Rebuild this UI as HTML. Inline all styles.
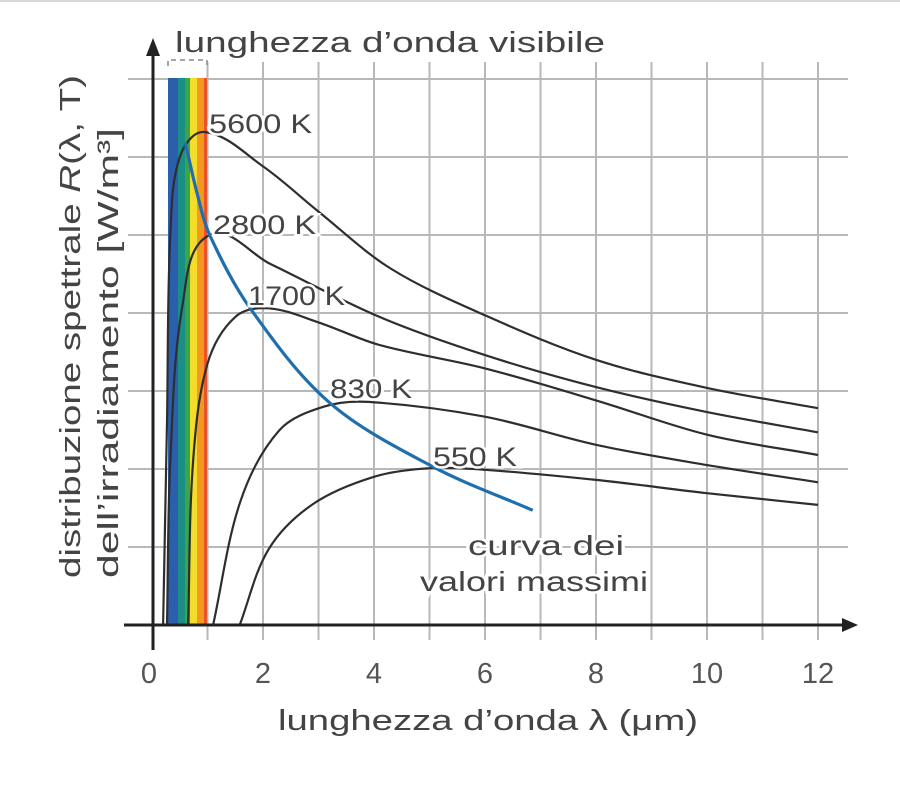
<!DOCTYPE html>
<html><head><meta charset="utf-8"><style>
html,body{margin:0;padding:0;background:#fff;}
svg{display:block;font-family:"Liberation Sans",sans-serif;}
</style></head><body>
<svg id="chart" width="900" height="788" viewBox="0 0 900 788">
<rect x="0" y="0" width="900" height="2" fill="#d8d8dc"/>
<g id="grid"></g>
<g id="spectrum"></g>
<g id="curves"></g>
<g id="axes"></g>
<g id="labels"></g>
</svg>
<script>
const xTicks = [0, 2, 4, 6, 8, 10, 12];
const yLevels = [1, 2, 3, 4, 5, 6, 7];
const temps = ["5600 K", "2800 K", "1700 K", "830 K", "550 K"];
const x5600 = [0.2, 0.27, 0.33, 0.5, 0.95, 2, 3, 4.3, 6, 8, 10, 12];
const y5600 = [0, 2.6, 5.0, 6.0, 6.32, 5.88, 5.3, 4.57, 3.97, 3.4, 3.04, 2.78];
const x2800 = [0.27, 0.33, 0.55, 1.04, 2.13, 4.1, 6, 8, 10, 12];
const y2800 = [0, 2.1, 4.1, 5.0, 4.63, 3.95, 3.46, 3.05, 2.73, 2.47];
const x1700 = [0.65, 0.74, 1.0, 1.5, 2.1, 3, 4.1, 6, 8, 10, 12];
const y1700 = [0, 2.1, 3.35, 3.95, 4.06, 3.88, 3.59, 3.29, 2.88, 2.44, 2.18];
const x830 = [1.1, 1.6, 2.3, 3.1, 3.9, 6, 8, 10, 12];
const y830 = [0, 1.6, 2.5, 2.8, 2.86, 2.67, 2.31, 2.05, 1.83];
const x550 = [1.58, 2.1, 2.9, 4.0, 5.0, 6, 8, 10, 12];
const y550 = [0, 0.97, 1.55, 1.9, 2.01, 1.99, 1.86, 1.69, 1.54];
const xMax = [0.6, 0.81, 1.04, 1.77, 3.2, 5.06, 6.86];
const yMax = [6.18, 5.54, 5.0, 4.06, 2.85, 2.03, 1.47];

const NS = "http://www.w3.org/2000/svg";
const X0 = 152, XS = 55.5, Y0 = 625, YS = 78;
function sx(v){ return X0 + v*XS; }
function sy(v){ return Y0 - v*YS; }
function mk(tag, attrs, parent){
  const e = document.createElementNS(NS, tag);
  for (const k in attrs) e.setAttribute(k, attrs[k]);
  parent.appendChild(e); return e;
}
function dist(a,b){ return Math.hypot(a[0]-b[0], a[1]-b[1]) || 1e-6; }
function smooth(xs, ys){
  const p = xs.map((x,i)=>[sx(x), sy(ys[i])]);
  const n = p.length;
  const tan = p.map((pt,i)=>{
    if (i===0) return [p[1][0]-p[0][0], p[1][1]-p[0][1]];
    if (i===n-1) return [p[n-1][0]-p[n-2][0], p[n-1][1]-p[n-2][1]];
    const d0 = dist(p[i-1],p[i]), d1 = dist(p[i],p[i+1]);
    return [(p[i+1][0]-p[i-1][0])/(d0+d1), (p[i+1][1]-p[i-1][1])/(d0+d1)];
  });
  let d = "M" + p[0][0].toFixed(1) + "," + p[0][1].toFixed(1);
  for (let i=0;i<n-1;i++){
    const L = dist(p[i],p[i+1]);
    const t1 = tan[i], t2 = tan[i+1];
    const n1 = Math.hypot(t1[0],t1[1])||1, n2 = Math.hypot(t2[0],t2[1])||1;
    const c1 = [p[i][0]+t1[0]/n1*L/3, p[i][1]+t1[1]/n1*L/3];
    const c2 = [p[i+1][0]-t2[0]/n2*L/3, p[i+1][1]-t2[1]/n2*L/3];
    d += " C"+c1[0].toFixed(1)+","+c1[1].toFixed(1)+" "+c2[0].toFixed(1)+","+c2[1].toFixed(1)+" "+p[i+1][0].toFixed(1)+","+p[i+1][1].toFixed(1);
  }
  return d;
}
const grid = document.getElementById("grid");
yLevels.forEach(v=>{
  const l = mk("line",{x1:128,x2:848,y1:sy(v),y2:sy(v),stroke:"#b8b8b8","stroke-width":2},grid);
  
  
});
for (let v=1; v<=12; v++){
  const l = mk("line",{x1:sx(v),x2:sx(v),y1:62,y2:640,stroke:"#b8b8b8","stroke-width":2},grid);
  
  
}
const sp = document.getElementById("spectrum");
const bands = [["#2b5fae",168,178],["#1b8f86",178,185],["#3aa64a",185,190],["#f2dd2a",190,197],["#f39a1e",197,204],["#e8532a",204,207]];
bands.forEach(b=>{
  const r = mk("rect",{x:b[1],y:78,width:b[2]-b[1],height:547,fill:b[0]},sp);
  
  
});
const br = mk("path",{d:"M168,66 L168,60 L207,60 L207,66",fill:"none",stroke:"#888","stroke-width":1.5,"stroke-dasharray":"5,4"},sp);


const cv = document.getElementById("curves");
const series = [[x5600,y5600],[x2800,y2800],[x1700,y1700],[x830,y830],[x550,y550]];
series.forEach((s,i)=>{
  const p = mk("path",{d:smooth(s[0],s[1]),fill:"none",stroke:"#2e2e2e","stroke-width":2.2},cv);
  
  
});
const bl = mk("path",{d:smooth(xMax,yMax),fill:"none",stroke:"#1f6fae","stroke-width":3.2},cv);


const ax = document.getElementById("axes");
const xa = mk("line",{x1:124,x2:845,y1:625,y2:625,stroke:"#222","stroke-width":3},ax);


const xar = mk("path",{d:"M858,625 L842,618 L842,632 Z",fill:"#222"},ax);


const ya = mk("line",{x1:153,x2:153,y1:650,y2:52,stroke:"#222","stroke-width":3},ax);


const yar = mk("path",{d:"M153,38 L146,56 L160,56 Z",fill:"#222"},ax);


xTicks.forEach(v=>{
  const t = mk("text",{x:sx(v)-(v===0?3:0),y:683,"text-anchor":"middle","font-size":29,fill:"#555"},ax);
  t.textContent = v;
  
  
});
</script>
<script>
(function(){
const lb = document.getElementById("labels");
const items = [
 ["5600 K",209,133,27,103,"curve-label-5600k"],
 ["2800 K",213,234,27,103,"curve-label-2800k"],
 ["1700 K",248,305,27,97,"curve-label-1700k"],
 ["830 K",330,398,27,82,"curve-label-830k"],
 ["550 K",433,466,27,84,"curve-label-550k"],
 ["curva dei",468,555,28,156,"max-curve-label-line1"],
 ["valori massimi",420,591,28,228,"max-curve-label-line2"],
 ["lunghezza d\u2019onda visibile",175,52,29,430,"visible-wavelength-label"],
 ["lunghezza d\u2019onda \u03bb (\u03bcm)",278,730,29,420,"x-axis-title"]
];
items.forEach(it=>{
  const t = document.createElementNS("http://www.w3.org/2000/svg","text");
  t.setAttribute("x",it[1]); t.setAttribute("y",it[2]);
  t.setAttribute("font-size",it[3]); t.setAttribute("fill","#444");
  t.setAttribute("stroke","#fff"); t.setAttribute("stroke-width","5");
  t.setAttribute("paint-order","stroke");
  t.setAttribute("textLength",it[4]); t.setAttribute("lengthAdjust","spacingAndGlyphs");
  t.textContent = it[0];
  
  
  lb.appendChild(t);
});
const y1 = document.createElementNS("http://www.w3.org/2000/svg","text");
y1.setAttribute("transform","translate(80,578) rotate(-90)");
y1.setAttribute("font-size","29"); y1.setAttribute("fill","#444");
y1.setAttribute("textLength","503"); y1.setAttribute("lengthAdjust","spacingAndGlyphs");
y1.innerHTML = 'distribuzione spettrale <tspan font-style="italic">R</tspan>(\u03bb, T)';


lb.appendChild(y1);
const y2 = document.createElementNS("http://www.w3.org/2000/svg","text");
y2.setAttribute("transform","translate(118,578) rotate(-90)");
y2.setAttribute("font-size","29"); y2.setAttribute("fill","#444");
y2.setAttribute("textLength","450"); y2.setAttribute("lengthAdjust","spacingAndGlyphs");
y2.textContent = "dell\u2019irradiamento [W/m\u00b3]";


lb.appendChild(y2);
})();
</script>
</body></html>
